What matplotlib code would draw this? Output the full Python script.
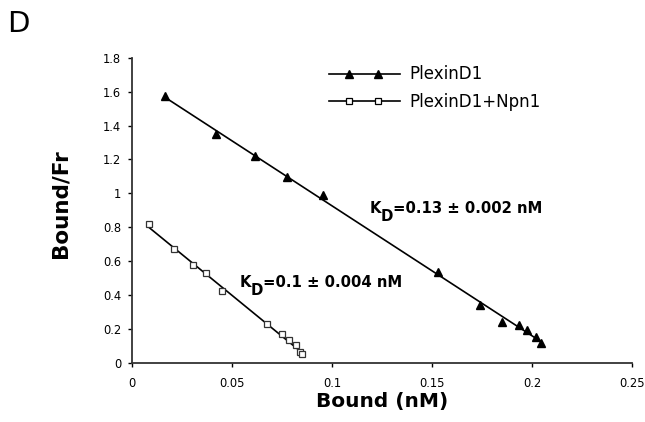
import numpy as np
import matplotlib
matplotlib.use("Agg")
import matplotlib.pyplot as plt
from matplotlib.lines import Line2D
from matplotlib.legend_handler import HandlerLine2D
from matplotlib.ticker import FuncFormatter, MultipleLocator

plt.rcParams['font.family'] = ['DejaVu Sans']

# PlexinD1 (filled triangles)
plexin_x = [0.0164, 0.0417, 0.0614, 0.0772, 0.0952, 0.1529, 0.1739, 0.1847, 0.1934, 0.1972, 0.2019, 0.2045]
plexin_y = [1.574, 1.350, 1.220, 1.098, 0.989, 0.537, 0.341, 0.242, 0.223, 0.193, 0.153, 0.115]
# PlexinD1+Npn1 (open squares)
npn_x = [0.0085, 0.0209, 0.0302, 0.0369, 0.0449, 0.0672, 0.0747, 0.0785, 0.0819, 0.0839, 0.0847]
npn_y = [0.819, 0.669, 0.577, 0.528, 0.425, 0.227, 0.168, 0.132, 0.103, 0.065, 0.050]

labels = ["PlexinD1", "PlexinD1+Npn1"]
kd_values = ["=0.13 ± 0.002 nM", "=0.1 ± 0.004 nM"]

fig = plt.figure(figsize=(6.45, 4.22), dpi=100)
ax = fig.add_axes([0.205, 0.1405, 0.775, 0.7225])

def fitline(x, y):
    x = np.asarray(x); y = np.asarray(y)
    m, b = np.polyfit(x, y, 1)
    xs = np.array([x.min(), x.max()])
    return xs, m * xs + b

xs, ys = fitline(plexin_x, plexin_y)
ax.plot(xs, ys, color='black', lw=1.2, zorder=2)
xs, ys = fitline(npn_x, npn_y)
ax.plot(xs, ys, color='black', lw=1.2, zorder=2)

ax.plot(plexin_x, plexin_y, ls='none', marker='^', ms=6.3, color='black', zorder=3)
ax.plot(npn_x, npn_y, ls='none', marker='s', ms=5, mfc='white', mec='#333333', mew=0.9, zorder=3)


class InsetMarkerHandler(HandlerLine2D):
    """Full-width line with two markers placed inside the handle."""
    def create_artists(self, legend, orig_handle, xdescent, ydescent, width, height,
                       fontsize, trans):
        y = (height - ydescent) / 2.0
        line = Line2D([-xdescent, -xdescent + width], [y, y])
        self.update_prop(line, orig_handle, legend)
        line.set_marker('None')
        xm = [-xdescent + 0.28 * width, -xdescent + 0.70 * width]
        mk = Line2D(xm, [y, y])
        self.update_prop(mk, orig_handle, legend)
        mk.set_linestyle('None')
        line.set_transform(trans)
        mk.set_transform(trans)
        return [line, mk]


ax.plot([], [], color='black', lw=1.2, marker='^', ms=6, label=labels[0])
ax.plot([], [], color='black', lw=1.2, marker='s', ms=4.2, mfc='white', mec='black', mew=0.9,
        label=labels[1])
leg = ax.legend(loc='upper left', bbox_to_anchor=(0.393, 0.975), frameon=False,
                handler_map={Line2D: InsetMarkerHandler()},
                handlelength=4.26, fontsize=12, labelspacing=0.55, handletextpad=0.6,
                borderpad=0, borderaxespad=0)

def kd_label(x, y, value):
    k = ax.text(x, y, 'K', fontsize=10.7, fontweight='bold', va='baseline', ha='left')
    d = ax.annotate('D', xy=(1, 0), xycoords=k, xytext=(0, -6), textcoords='offset points',
                    fontsize=10.7, fontweight='bold', va='bottom', ha='left')
    ax.annotate(value, xy=(1, 0), xycoords=(d, k), fontsize=10.7, fontweight='bold',
                va='bottom', ha='left')

kd_label(0.1185, 0.885, kd_values[0])
kd_label(0.0535, 0.449, kd_values[1])

ax.set_xlim(0, 0.25)
ax.set_ylim(0, 1.8)
ax.xaxis.set_major_locator(MultipleLocator(0.05))
ax.yaxis.set_major_locator(MultipleLocator(0.2))
fmt = FuncFormatter(lambda v, p: '%g' % round(v, 3))
ax.xaxis.set_major_formatter(fmt)
ax.yaxis.set_major_formatter(fmt)
ax.tick_params(labelsize=8.3, length=3, width=1, direction='out')
ax.tick_params(axis='x', pad=7)
ax.tick_params(axis='y', pad=5)
for s in ['top', 'right']:
    ax.spines[s].set_visible(False)
for s in ['left', 'bottom']:
    ax.spines[s].set_linewidth(1.3)
    ax.spines[s].set_color('#333333')

ax.set_xlabel('Bound (nM)', fontsize=14.5, fontweight='bold', labelpad=2)
ax.set_ylabel('Bound/Fr', fontsize=15.5, fontweight='bold')
ax.yaxis.set_label_coords(-0.124, 0.522)

fig.text(0.011, 0.976, 'D', fontsize=21, va='top', ha='left')

fig.savefig('out.png', dpi=100)
